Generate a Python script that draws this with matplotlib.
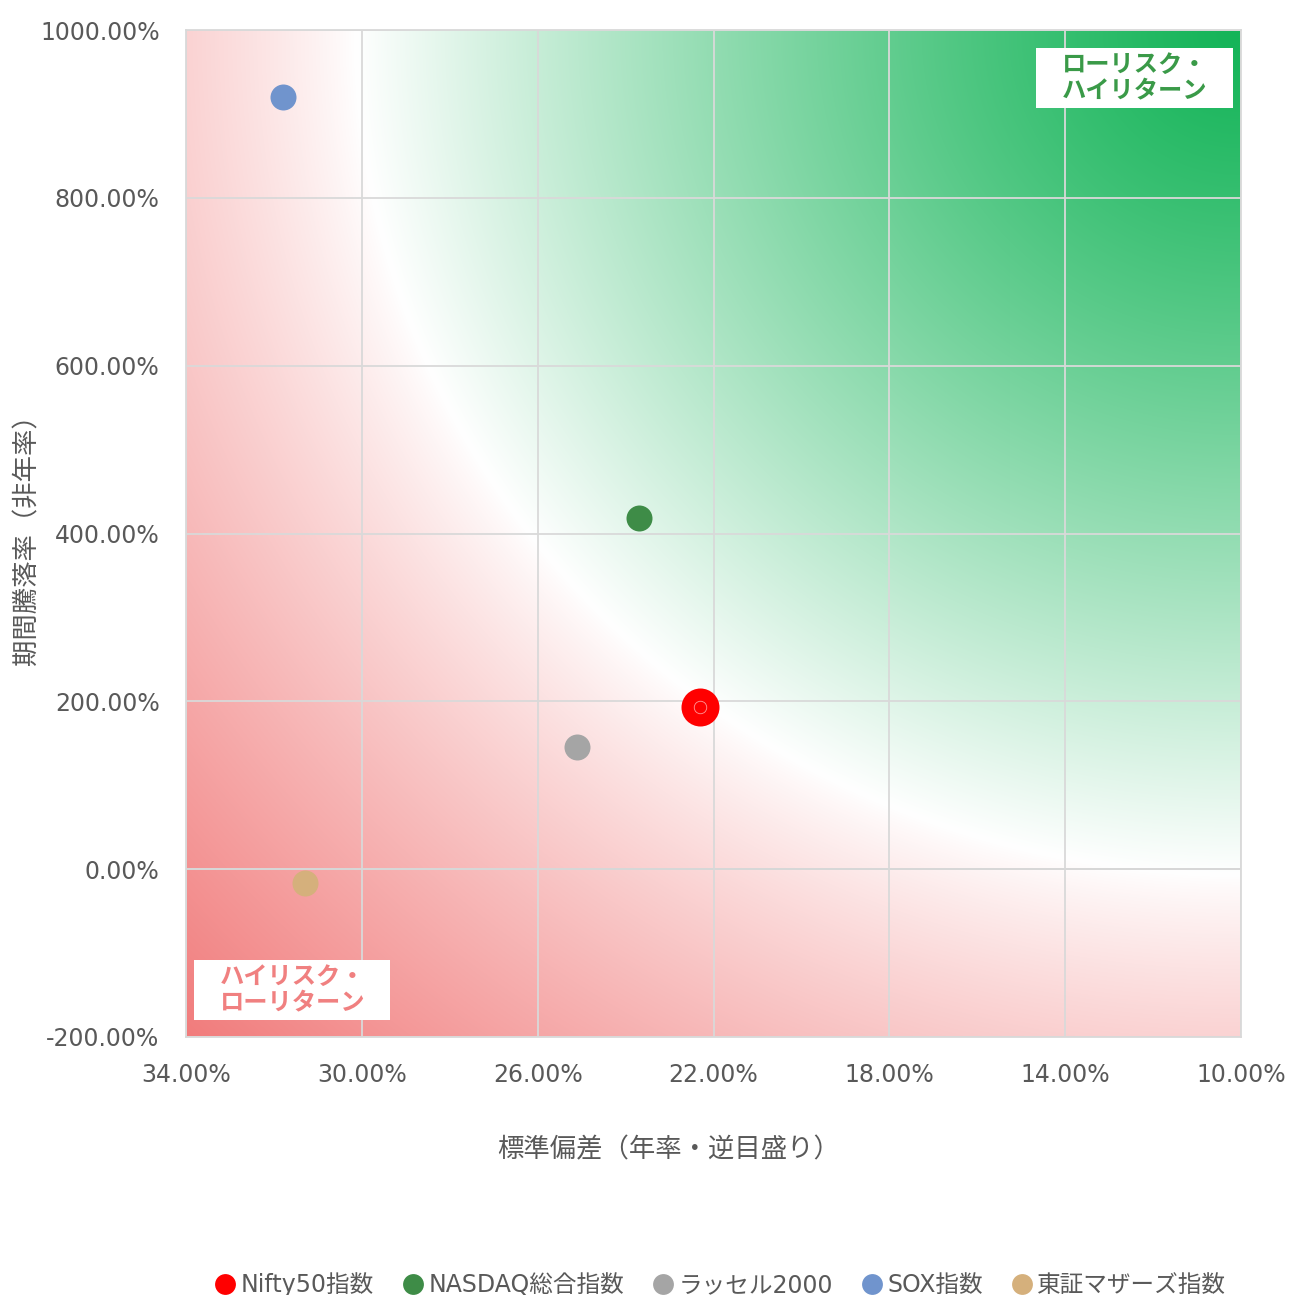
import numpy as np
import matplotlib
matplotlib.use("Agg")
import matplotlib.pyplot as plt
from matplotlib.ticker import FuncFormatter
from matplotlib.lines import Line2D
from matplotlib.patches import Rectangle

plt.rcParams['font.family'] = ['DejaVu Sans', 'Noto Sans CJK JP']

# 標準偏差(%) と 期間騰落率(%)
names = ["Nifty50指数", "NASDAQ総合指数", "ラッセル2000", "SOX指数", "東証マザーズ指数"]
risk = [22.3, 23.7, 25.1, 31.8, 31.3]
ret = [193.0, 418.0, 145.0, 920.0, -17.0]
colors = ["#FF0000", "#3E8C47", "#A5A5A5", "#7094CD", "#D5B07C"]
sizes = [38, 26, 26, 26, 26]

xticks = [34, 30, 26, 22, 18, 14, 10]
yticks = [-200, 0, 200, 400, 600, 800, 1000]

W, H = 1290, 1295
fig = plt.figure(figsize=(W / 100, H / 100), dpi=100)
ax = fig.add_axes([186 / W, 1 - 1037 / H, (1241 - 186) / W, (1037 - 30) / H])

# 背景: 右上(緑)から左下(赤)へ放射状のグラデーション
n = 400
u, v = np.meshgrid(np.linspace(0, 1, n), np.linspace(1, 0, n))
d = np.sqrt((1 - u) ** 2 + (1 - v) ** 2)
green = np.array([20, 180, 88]) / 255
white = np.array([1.0, 1.0, 1.0])
red = np.array([241, 124, 124]) / 255
d0 = 0.84
t1 = (np.clip(d / d0, 0, 1) ** 1.2)[..., None]
t2 = (np.clip((d - d0) / (np.sqrt(2) - d0), 0, 1) ** 0.85)[..., None]
near = d[..., None] <= d0
img = np.where(near, green * (1 - t1) + white * t1, white * (1 - t2) + red * t2)
ax.imshow(img, extent=[34, 10, -200, 1000], aspect="auto", zorder=0, interpolation="bilinear")

ax.set_xlim(34, 10)
ax.set_ylim(-200, 1000)
ax.set_xticks(xticks)
ax.set_yticks(yticks)
ax.xaxis.set_major_formatter(FuncFormatter(lambda x, p: f"{x:.2f}%"))
ax.yaxis.set_major_formatter(FuncFormatter(lambda y, p: f"{y:.2f}%"))
ax.grid(True, color="#D9D9D9", linewidth=1.3, zorder=1)
ax.axhline(0, color="#C8C8C8", linewidth=1.3, zorder=1.5)
ax.tick_params(length=0, labelsize=17, labelcolor="#595959")
ax.tick_params(axis="y", pad=19)
ax.tick_params(axis="x", pad=19)
for s in ax.spines.values():
    s.set_color("#D9D9D9")
    s.set_linewidth(1.3)

for nm, x, y, c, s in zip(names, risk, ret, colors, sizes):
    ax.plot(x, y, "o", markersize=s * 0.72, color=c, markeredgewidth=0, zorder=3)
# Nifty50 の中心の小さな輪
ax.plot(risk[0], ret[0], "o", markersize=9, markerfacecolor="none",
        markeredgecolor="#FF9A9A", markeredgewidth=0.6, zorder=4)

ax.set_xlabel("標準偏差（年率・逆目盛り）", fontsize=19, color="#595959", labelpad=36)
ax.xaxis.label.set_x(0.457)
ax.set_ylabel("期間騰落率（非年率）", fontsize=19, color="#595959")
ax.yaxis.set_label_coords(-0.138, 0.5)

# 注記ボックス
ax.add_patch(Rectangle((0.806, 0.9225), 0.1864, 0.0595, transform=ax.transAxes,
                       facecolor="white", edgecolor="none", zorder=5))
ax.text(0.830, 0.952, "ローリスク・\nハイリターン", transform=ax.transAxes, ha="left", va="center",
        fontsize=17.5, fontweight="bold", color="#3A9A48", linespacing=1.1, zorder=6)
ax.add_patch(Rectangle((0.0076, 0.0169), 0.1858, 0.0596, transform=ax.transAxes,
                       facecolor="white", edgecolor="none", zorder=5))
ax.text(0.0322, 0.0467, "ハイリスク・\nローリターン", transform=ax.transAxes, ha="left", va="center",
        fontsize=17.5, fontweight="bold", color="#F08080", linespacing=1.1, zorder=6)

handles = [Line2D([], [], linestyle="none", marker="o", markersize=15, color=c,
                  markeredgewidth=0) for c in colors]
leg = fig.legend(handles, names, loc="lower center", bbox_to_anchor=(0.557, -0.018), ncol=5,
                 frameon=False, fontsize=17, handletextpad=0.05, columnspacing=1.05,
                 handlelength=1.2)
for t in leg.get_texts():
    t.set_color("#595959")

fig.savefig("out.png", dpi=100)
